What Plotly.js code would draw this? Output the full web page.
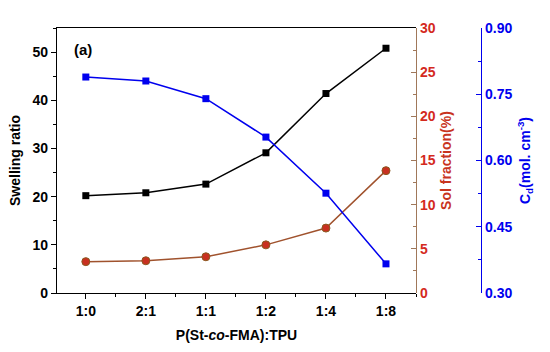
<!DOCTYPE html>
<html><head><meta charset="utf-8">
<script src="https://cdn.plot.ly/plotly-3.0.1.min.js"></script>
<style>body{margin:0;background:#fff}#c{width:550px;height:352px}</style>
</head><body><div id="c"></div>
<script>
const categories = ['1:0','2:1','1:1','1:2','1:4','1:8'];
const swelling = [20.2, 20.8, 22.6, 29.1, 41.4, 50.8];
const solFraction = [3.55, 3.65, 4.1, 5.45, 7.35, 13.85];
const crosslink = [0.789, 0.780, 0.740, 0.653, 0.526, 0.366];

const xs = categories.map((c,i)=>i);
const F = 'Liberation Sans, Arial, sans-serif';
const sol = '#a0522d', solTxt = '#d42a1e', blue = '#0000ee';

const traces = [
 {x:xs, y:swelling, type:'scatter', mode:'lines+markers', yaxis:'y',
  line:{color:'#000',width:1.5}, marker:{symbol:'square',size:7,color:'#000'}},
 {x:xs, y:solFraction, type:'scatter', mode:'lines+markers', yaxis:'y2',
  line:{color:sol,width:1.5}, marker:{symbol:'circle',size:8,color:'#c83020',line:{color:'#8a5a20',width:1}}},
 {x:xs, y:crosslink, type:'scatter', mode:'lines+markers', yaxis:'y3',
  line:{color:blue,width:1.5}, marker:{symbol:'square',size:7,color:blue}}
];
const dom = 359/424;
const layout = {
 width:550, height:352, showlegend:false,
 margin:{l:57, r:69, t:28, b:59},
 paper_bgcolor:'#fff', plot_bgcolor:'#fff',
 font:{family:F, color:'#000'},
 xaxis:{domain:[0,dom], range:[-0.48,5.5], tickvals:xs, ticktext:categories,
   showgrid:false, zeroline:false, showline:true, linecolor:'#000', linewidth:1.2, mirror:true,
   ticks:'outside', ticklen:5, tickcolor:'#000',
   minor:{tickvals:[-0.5,0.5,1.5,2.5,3.5,4.5,5.5], ticks:'outside', ticklen:3, tickcolor:'#000'},
   tickfont:{family:F, size:14, color:'#000', weight:'bold'},
   title:{text:'<b>P(St-<i>co</i>-FMA):TPU</b>', font:{family:F,size:14,color:'#000'}, standoff:12}},
 yaxis:{range:[0,55], tickvals:[0,10,20,30,40,50], showgrid:false, zeroline:false,
   showline:true, linecolor:'#000', linewidth:1.2, ticks:'outside', ticklen:5, tickcolor:'#000',
   minor:{tickvals:[5,15,25,35,45,55], ticks:'outside', ticklen:3, tickcolor:'#000'},
   tickfont:{family:F, size:14, color:'#000', weight:'bold'},
   title:{text:'<b>Swelling ratio</b>', font:{family:F,size:14,color:'#000'}, standoff:8}},
 yaxis2:{overlaying:'y', side:'right', anchor:'free', position:dom, range:[0,30],
   tickvals:[0,5,10,15,20,25,30], showgrid:false, zeroline:false, showline:true, linecolor:'#a0785a', linewidth:1.2,
   ticks:'inside', ticklen:5, tickcolor:'#a0785a',
   minor:{tickvals:[2.5,7.5,12.5,17.5,22.5,27.5], ticks:'inside', ticklen:3, tickcolor:'#a0785a'},
   tickfont:{family:F, size:14, color:solTxt, weight:'bold'},
   title:{text:'<b>Sol fraction(%)</b>', font:{family:F,size:14,color:'#c8341e'}, standoff:6}},
 yaxis3:{overlaying:'y', side:'right', anchor:'free', position:1, range:[0.3,0.9],
   tickvals:[0.30,0.45,0.60,0.75,0.90], ticktext:['0.30','0.45','0.60','0.75','0.90'],
   showgrid:false, zeroline:false, showline:true, linecolor:blue, linewidth:1.2,
   ticks:'inside', ticklen:5, tickcolor:blue,
   minor:{tickvals:[0.375,0.525,0.675,0.825], ticks:'inside', ticklen:3, tickcolor:blue},
   tickfont:{family:F, size:14, color:blue, weight:'bold'},
   title:{text:'<b>C<sub>d</sub>(mol. cm<sup>-3</sup>)</b>', font:{family:F,size:14,color:blue}, standoff:8}},
 annotations:[{xref:'paper', yref:'paper', x:0.036, y:0.918, xanchor:'left', yanchor:'middle',
   text:'<b>(a)</b>', showarrow:false, font:{family:F,size:15,color:'#000'}}]
};
Plotly.newPlot('c', traces, layout, {displayModeBar:false, staticPlot:true});
</script></body></html>
